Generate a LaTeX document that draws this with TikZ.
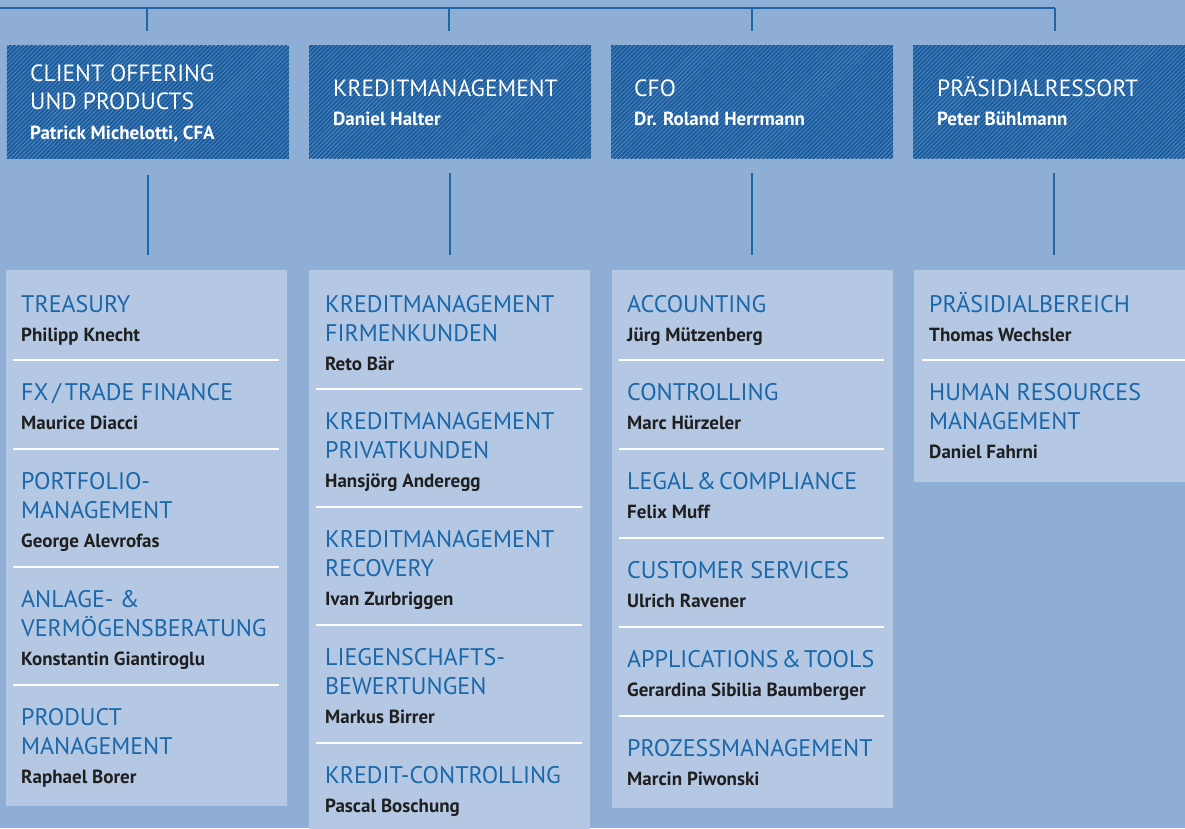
\documentclass[tikz,border=0pt]{standalone}
\usepackage{fontspec}
\setmainfont{PT Sans}
\usetikzlibrary{patterns.meta}
\definecolor{bgblue}{HTML}{8EAED6}
\definecolor{boxblue}{HTML}{B4C8E4}
\definecolor{hatchdark}{HTML}{1A5A9A}
\definecolor{hatchlight}{HTML}{4F88C3}
\definecolor{linkblue}{HTML}{1F66A8}
\definecolor{titleblue}{HTML}{1A67A9}
\definecolor{namegray}{HTML}{1F1F1F}
\tikzset{
  headbox/.style={rectangle, inner sep=0pt, minimum width=282pt, minimum height=113pt,
    anchor=north west, preaction={fill=hatchlight},
    pattern={Lines[angle=45,distance=3pt,line width=1.9pt]}, pattern color=hatchdark},
  unitbox/.style={rectangle, inner sep=0pt, minimum width=281pt, fill=boxblue, anchor=north west},
  link/.style={draw=linkblue, line width=2pt},
  sepline/.style={draw=white, line width=2pt},
  htitle/.style={anchor=base west, inner sep=0pt, text=white, font=\fontsize{23.5}{29}\selectfont},
  hname/.style={anchor=base west, inner sep=0pt, text=white, font=\bfseries\fontsize{19}{22}\selectfont},
  utitle/.style={anchor=base west, inner sep=0pt, text=titleblue, font=\fontsize{24}{29}\selectfont},
  uname/.style={anchor=base west, inner sep=0pt, text=namegray, font=\bfseries\fontsize{19}{22}\selectfont},
}
\begin{document}
\begin{tikzpicture}[x=1pt, y=-1pt]
\useasboundingbox (0,0) rectangle (1185,828);
\clip (0,0) rectangle (1185,828);
\fill[bgblue] (0,0) rectangle (1185,828);

% top bus with four drops
\coordinate (busL) at (0,8);
\coordinate (k1) at (147,8);   \coordinate (k1e) at (147,31);
\coordinate (k2) at (449,8);   \coordinate (k2e) at (449,31);
\coordinate (k3) at (752,8);   \coordinate (k3e) at (752,31);
\coordinate (k4) at (1055,8);  \coordinate (k4e) at (1055,31);
\draw[link] (busL) -- (k4);
\draw[link] (k1) -- (k1e);
\draw[link] (k2) -- (k2e);
\draw[link] (k3) -- (k3e);
\draw[link] (k4) -- (k4e);

% division heads
\node[headbox] (h1) at (6,45) {};
\node[headbox] (h2) at (309,45) {};
\node[headbox] (h3) at (611,45) {};
\node[headbox] (h4) at (913,45) {};

\node[htitle] (h1a) at (30,81) {CLIENT OFFERING};
\node[htitle] (h1b) at (30,109) {UND PRODUCTS};
\node[hname]  (h1n) at (30,139) {Patrick Michelotti, CFA};
\node[htitle] (h2a) at (333,96) {KREDITMANAGEMENT};
\node[hname]  (h2n) at (333,125) {Daniel Halter};
\node[htitle] (h3a) at (634,96) {CFO};
\node[hname]  (h3n) at (634,125) {Dr. Roland Herrmann};
\node[htitle] (h4a) at (937,96) {PRÄSIDIALRESSORT};
\node[hname]  (h4n) at (937,125) {Peter Bühlmann};

% unit panels
\node[unitbox, minimum height=536pt] (b1) at (6,270) {};
\node[unitbox, minimum height=570pt] (b2) at (309,270) {};
\node[unitbox, minimum height=538pt] (b3) at (612,270) {};
\node[unitbox, minimum height=212pt, minimum width=290pt] (b4) at (914,270) {};

% links from heads to panels
\draw[link] ([yshift=-15pt]h1.south) -- ([yshift=15pt]h1.south |- b1.north);
\draw[link] ([yshift=-15pt]h2.south) -- ([yshift=15pt]h2.south |- b2.north);
\draw[link] ([yshift=-15pt]h3.south) -- ([yshift=15pt]h3.south |- b3.north);
\draw[link] ([yshift=-15pt]h4.south) -- ([yshift=15pt]h4.south |- b4.north);

% column 1
\node[utitle] (u11) at (21,312) {TREASURY};
\node[uname]  (n11) at (21,341) {Philipp Knecht};
\draw[sepline] (13,360) -- (279,360);
\node[utitle] (u12) at (21,400) {FX\,/\,TRADE FINANCE};
\node[uname]  (n12) at (21,429) {Maurice Diacci};
\draw[sepline] (13,449) -- (279,449);
\node[utitle] (u13) at (21,489) {PORTFOLIO-};
\node[utitle] (u13b) at (21,518) {MANAGEMENT};
\node[uname]  (n13) at (21,547) {George Alevrofas};
\draw[sepline] (13,567) -- (279,567);
\node[utitle] (u14) at (21,607) {ANLAGE- \&};
\node[utitle] (u14b) at (21,636) {VERMÖGENSBERATUNG};
\node[uname]  (n14) at (21,665) {Konstantin Giantiroglu};
\draw[sepline] (13,685) -- (279,685);
\node[utitle] (u15) at (21,725) {PRODUCT};
\node[utitle] (u15b) at (21,754) {MANAGEMENT};
\node[uname]  (n15) at (21,783) {Raphael Borer};

% column 2
\node[utitle] (u21) at (325,312) {KREDITMANAGEMENT};
\node[utitle] (u21b) at (325,341) {FIRMENKUNDEN};
\node[uname]  (n21) at (325,370) {Reto Bär};
\draw[sepline] (316,389) -- (582,389);
\node[utitle] (u22) at (325,429) {KREDITMANAGEMENT};
\node[utitle] (u22b) at (325,458) {PRIVATKUNDEN};
\node[uname]  (n22) at (325,487) {Hansjörg Anderegg};
\draw[sepline] (316,507) -- (582,507);
\node[utitle] (u23) at (325,547) {KREDITMANAGEMENT};
\node[utitle] (u23b) at (325,576) {RECOVERY};
\node[uname]  (n23) at (325,605) {Ivan Zurbriggen};
\draw[sepline] (316,625) -- (582,625);
\node[utitle] (u24) at (325,665) {LIEGENSCHAFTS-};
\node[utitle] (u24b) at (325,694) {BEWERTUNGEN};
\node[uname]  (n24) at (325,723) {Markus Birrer};
\draw[sepline] (316,743) -- (582,743);
\node[utitle] (u25) at (325,783) {KREDIT-CONTROLLING};
\node[uname]  (n25) at (325,812) {Pascal Boschung};

% column 3
\node[utitle] (u31) at (627,312) {ACCOUNTING};
\node[uname]  (n31) at (627,341) {Jürg Mützenberg};
\draw[sepline] (619,360) -- (884,360);
\node[utitle] (u32) at (627,400) {CONTROLLING};
\node[uname]  (n32) at (627,429) {Marc Hürzeler};
\draw[sepline] (619,449) -- (884,449);
\node[utitle] (u33) at (627,489) {LEGAL\hspace{3pt}\&\hspace{3pt}COMPLIANCE};
\node[uname]  (n33) at (627,518) {Felix Muff};
\draw[sepline] (619,538) -- (884,538);
\node[utitle] (u34) at (627,578) {CUSTOMER SERVICES};
\node[uname]  (n34) at (627,607) {Ulrich Ravener};
\draw[sepline] (619,627) -- (884,627);
\node[utitle] (u35) at (627,667) {APPLICATIONS\hspace{3pt}\&\hspace{3pt}TOOLS};
\node[uname]  (n35) at (627,696) {Gerardina Sibilia Baumberger};
\draw[sepline] (619,716) -- (884,716);
\node[utitle] (u36) at (627,756) {PROZESSMANAGEMENT};
\node[uname]  (n36) at (627,785) {Marcin Piwonski};

% column 4
\node[utitle] (u41) at (929,312) {PRÄSIDIALBEREICH};
\node[uname]  (n41) at (929,341) {Thomas Wechsler};
\draw[sepline] (922,360) -- (1185,360);
\node[utitle] (u42) at (929,400) {HUMAN RESOURCES};
\node[utitle] (u42b) at (929,429) {MANAGEMENT};
\node[uname]  (n42) at (929,458) {Daniel Fahrni};
\end{tikzpicture}
\end{document}
